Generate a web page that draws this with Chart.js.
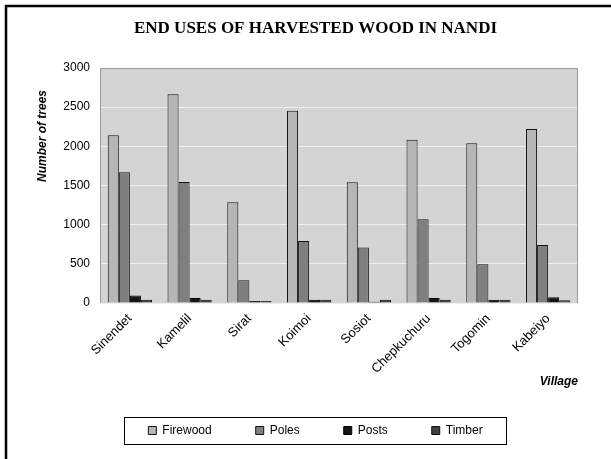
<!DOCTYPE html>
<html>
<head>
<meta charset="utf-8">
<script src="https://cdn.jsdelivr.net/npm/chart.js@4"></script>
<style>
html,body{margin:0;padding:0;background:#fff;}
canvas{display:block;}
</style>
</head>
<body>
<canvas id="c" width="611" height="459"></canvas>
<script>
const villages = ["Sinendet","Kamelil","Sirat","Koimoi","Sosiot","Chepkuchuru","Togomin","Kabeiyo"];
const firewood = [2140, 2665, 1285, 2455, 1540, 2085, 2040, 2220];
const poles    = [1670, 1545, 290, 790, 710, 1070, 495, 740];
const posts    = [95, 65, 25, 40, 15, 65, 40, 75];
const timber   = [40, 40, 25, 40, 40, 40, 40, 35];
const yTicks   = [0, 500, 1000, 1500, 2000, 2500, 3000];

const SANS = "'Liberation Sans', Arial, sans-serif";

const decor = {
  id: 'decor',
  beforeDraw(chart) {
    const {ctx, chartArea: a} = chart;
    ctx.save();
    ctx.fillStyle = '#d4d4d4';
    ctx.fillRect(a.left, a.top, a.right - a.left, a.bottom - a.top);
    ctx.restore();
  },
  afterDraw(chart) {
    const {ctx, chartArea: a} = chart;
    ctx.save();
    ctx.strokeStyle = '#9a9a9a';
    ctx.lineWidth = 1;
    ctx.beginPath();
    ctx.moveTo(a.left + 0.5, a.bottom);
    ctx.lineTo(a.left + 0.5, a.top + 0.5);
    ctx.lineTo(a.right - 0.5, a.top + 0.5);
    ctx.lineTo(a.right - 0.5, a.bottom);
    ctx.stroke();
    ctx.strokeStyle = '#000';
    ctx.lineWidth = 2.5;
    ctx.strokeRect(6, 6, 700, 700);
    ctx.fillStyle = '#000';
    ctx.font = "italic bold 12px " + SANS;
    ctx.textAlign = 'center';
    ctx.textBaseline = 'middle';
    ctx.translate(43, 136);
    ctx.rotate(-Math.PI / 2);
    ctx.fillText('Number of trees', 0, 0);
    ctx.restore();
    const hb = chart.legend.legendHitBoxes;
    if (hb && hb.length) {
      const first = hb[0], last = hb[hb.length - 1];
      const cy = first.top + first.height / 2;
      ctx.save();
      ctx.strokeStyle = '#000';
      ctx.lineWidth = 1;
      ctx.strokeRect(Math.round(first.left - 24) + 0.5, Math.round(cy - 13.5) + 0.5,
                     Math.round(last.left + last.width + 24 - (first.left - 24)), 27);
      ctx.restore();
    }
  }
};

new Chart(document.getElementById('c'), {
  type: 'bar',
  data: {
    labels: villages,
    datasets: [
      {label: 'Firewood', data: firewood, backgroundColor: '#b6b6b6', borderColor: '#111', borderWidth: 1},
      {label: 'Poles', data: poles, backgroundColor: '#7f7f7f', borderColor: '#111', borderWidth: 1},
      {label: 'Posts', data: posts, backgroundColor: '#151515', borderColor: '#000', borderWidth: 1},
      {label: 'Timber', data: timber, backgroundColor: '#404040', borderColor: '#111', borderWidth: 1}
    ]
  },
  options: {
    responsive: false,
    animation: false,
    layout: {padding: {left: 20, right: 0, top: 0, bottom: 20.5}},
    datasets: {bar: {categoryPercentage: 0.74, barPercentage: 1.0}},
    plugins: {
      title: {
        display: true,
        text: 'END USES OF HARVESTED WOOD IN NANDI',
        color: '#000',
        font: {family: "'Liberation Serif', 'Times New Roman', serif", size: 17, weight: 'bold'},
        padding: {top: 18, bottom: 29.6}
      },
      legend: {
        position: 'bottom',
        maxHeight: 58,
        labels: {
          color: '#000',
          font: {family: SANS, size: 12},
          boxWidth: 8,
          boxHeight: 8,
          padding: 44
        }
      },
      tooltip: {enabled: false}
    },
    scales: {
      x: {
        grid: {display: false, drawTicks: false},
        border: {display: false},
        ticks: {
          color: '#000',
          font: {family: SANS, size: 13},
          minRotation: 45,
          maxRotation: 45,
          autoSkip: false,
          padding: 8
        },
        title: {
          display: true,
          text: 'Village',
          align: 'end',
          color: '#000',
          font: {family: SANS, size: 12, style: 'italic', weight: 'bold'},
          padding: {top: 0, bottom: -8.7}
        },
        afterFit(s) { s.height = 77.5; }
      },
      y: {
        min: 0,
        max: 3000,
        afterBuildTicks(s) { s.ticks = yTicks.map(v => ({value: v})); },
        grid: {color: '#efefef', lineWidth: 1, drawTicks: false},
        border: {display: false},
        ticks: {
          color: '#000',
          font: {family: SANS, size: 12},
          padding: 10,
          callback: v => String(v)
        },
        afterFit(s) { s.width = 80; }
      },
      yR: {
        position: 'right',
        display: true,
        grid: {display: false, drawTicks: false},
        border: {display: false},
        ticks: {display: false},
        afterFit(s) { s.width = 33; }
      }
    }
  },
  plugins: [decor]
});
</script>
</body>
</html>
